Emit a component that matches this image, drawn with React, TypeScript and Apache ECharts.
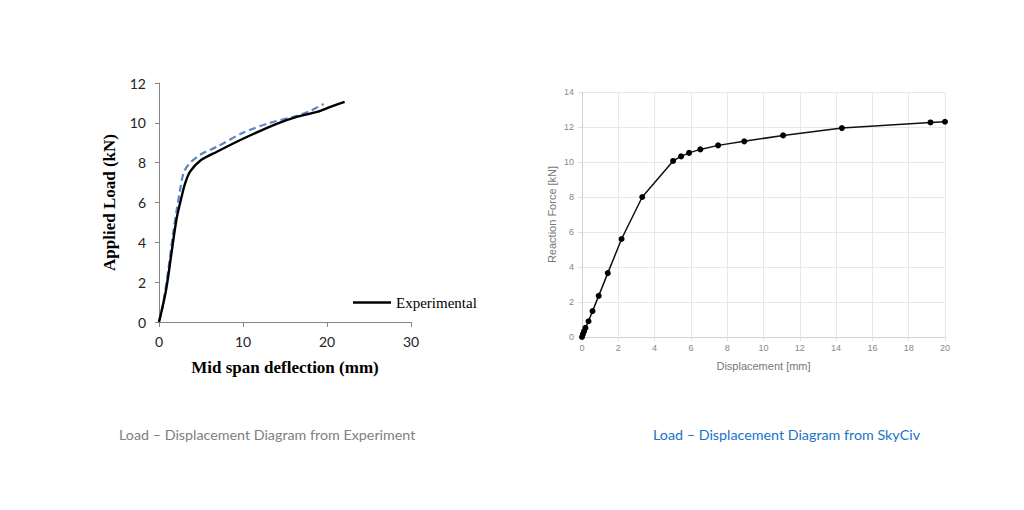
import React, { useEffect, useRef } from "react";
import * as echarts from "echarts";

// Left chart (experiment)
const expXTicks = [0, 10, 20, 30];
const experimental: [number, number][] = [
  [0, 0], [0.5, 0.9], [0.92, 1.8], [1.5, 3.5], [2.1, 5.2], [2.7, 6.3], [3.1, 6.95],
  [3.7, 7.55], [4.9, 8.1], [6.9, 8.55], [10, 9.2], [14, 9.95], [16.4, 10.3],
  [18.8, 10.55], [20.4, 10.8], [22.1, 11.05],
];
const numerical: [number, number][] = [
  [0, 0], [0.44, 0.8], [1.1, 2.6], [1.63, 4.3], [2.1, 5.6], [2.5, 6.6], [2.9, 7.45],
  [3.5, 7.9], [4.9, 8.4], [6.9, 8.8], [10, 9.5], [13.2, 10.0], [16.4, 10.35],
  [18, 10.6], [19.6, 10.95],
];
// Right chart (SkyCiv)
const skyciv: [number, number][] = [
  [0, 0], [0.05, 0.16], [0.11, 0.32], [0.19, 0.52], [0.36, 0.9], [0.58, 1.48],
  [0.92, 2.35], [1.42, 3.65], [2.18, 5.6], [3.32, 8.0], [5.02, 10.06], [5.46, 10.32],
  [5.9, 10.52], [6.52, 10.72], [7.5, 10.95], [8.94, 11.18], [11.08, 11.52],
  [14.32, 11.94], [19.2, 12.26], [20, 12.3],
];
const captions = [
  "Load \u2013 Displacement Diagram from Experiment",
  "Load \u2013 Displacement Diagram from SkyCiv",
];

export default function App() {
  const ref = useRef<HTMLDivElement>(null);
  useEffect(() => {
    if (!ref.current) return;
    const chart = echarts.init(ref.current, null, { renderer: "svg" });
    const serif = "'Liberation Serif', 'Times New Roman', serif";
    const sans = "'Liberation Sans', Arial, sans-serif";
    chart.setOption({
      animation: false,
      backgroundColor: "#ffffff",
      grid: [
        { left: 159, top: 83, width: 252, height: 239 },
        { left: 582, top: 92, width: 363, height: 245 },
      ],
      legend: {
        data: [{ name: "Experimental", icon: "rect" }],
        left: 348,
        top: 290,
        itemWidth: 38,
        itemHeight: 2.5,
        itemGap: 6,
        itemStyle: { color: "#000" },
        textStyle: { fontFamily: serif, fontSize: 15, color: "#000" },
      },
      xAxis: [
        {
          gridIndex: 0, type: "value", min: 0, max: 30, interval: 10,
          name: "Mid span deflection (mm)", nameLocation: "middle", nameGap: 37,
          nameTextStyle: { fontFamily: serif, fontSize: 17, fontWeight: "bold", color: "#000" },
          axisLine: { lineStyle: { color: "#868686", width: 1 } },
          axisTick: { show: true, length: 5, lineStyle: { color: "#868686" } },
          axisLabel: { fontFamily: "Lato, sans-serif", fontSize: 14, color: "#222", margin: 12,
            customValues: expXTicks },
          splitLine: { show: false },
        },
        {
          gridIndex: 1, type: "value", min: 0, max: 20, interval: 2,
          name: "Displacement [mm]", nameLocation: "middle", nameGap: 23,
          nameTextStyle: { fontFamily: sans, fontSize: 11, color: "#777" },
          axisLine: { lineStyle: { color: "#d0d0d0" } },
          axisTick: { show: true, length: 4, lineStyle: { color: "#e0e0e0" } },
          axisLabel: { fontFamily: sans, fontSize: 9, color: "#888", margin: 6 },
          splitLine: { show: true, lineStyle: { color: "#e8e8e8" } },
        },
      ],
      yAxis: [
        {
          gridIndex: 0, type: "value", min: 0, max: 12, interval: 2,
          name: "Applied Load (kN)", nameLocation: "middle", nameGap: 41,
          nameTextStyle: { fontFamily: serif, fontSize: 17, fontWeight: "bold", color: "#000" },
          axisLine: { show: true, lineStyle: { color: "#868686", width: 1 } },
          axisTick: { show: true, length: 4, lineStyle: { color: "#868686" } },
          axisLabel: { fontFamily: "Lato, sans-serif", fontSize: 14, color: "#222", margin: 13 },
          splitLine: { show: false },
        },
        {
          gridIndex: 1, type: "value", min: 0, max: 14, interval: 2,
          name: "Reaction Force [kN]", nameLocation: "middle", nameGap: 25,
          nameTextStyle: { fontFamily: sans, fontSize: 11, color: "#777" },
          axisLine: { show: true, lineStyle: { color: "#d0d0d0" } },
          axisTick: { show: true, length: 4, lineStyle: { color: "#e0e0e0" } },
          axisLabel: { fontFamily: sans, fontSize: 9, color: "#888", margin: 8 },
          splitLine: { show: true, lineStyle: { color: "#e8e8e8" } },
        },
      ],
      series: [
        {
          name: "Numerical", type: "line", xAxisIndex: 0, yAxisIndex: 0,
          data: numerical, smooth: 0.3, symbol: "none",
          lineStyle: { color: "#5a86c4", width: 2.2, type: [7, 4] },
        },
        {
          name: "Experimental", type: "line", xAxisIndex: 0, yAxisIndex: 0,
          data: experimental, smooth: 0.3, symbol: "none",
          itemStyle: { color: "#000" },
          lineStyle: { color: "#000", width: 2.4 },
        },
        {
          name: "SkyCiv", type: "line", xAxisIndex: 1, yAxisIndex: 1,
          data: skyciv, symbol: "circle", symbolSize: 6,
          itemStyle: { color: "#000" },
          lineStyle: { color: "#111", width: 1.5 },
        },
      ],
      graphic: [
        {
          type: "text", left: 119, top: 427,
          style: { text: captions[0], fontFamily: "Lato, sans-serif", fontSize: 14.3, fill: "#808080" },
        },
        {
          type: "text", left: 653, top: 427,
          style: { text: captions[1], fontFamily: "Lato, sans-serif", fontSize: 14.3, fill: "#1a73c6" },
        },
      ],
    });
    return () => chart.dispose();
  }, []);
  return (
    <div
      ref={ref}
      style={{ position: "fixed", left: 0, top: 0, width: 1024, height: 510 }}
    />
  );
}
